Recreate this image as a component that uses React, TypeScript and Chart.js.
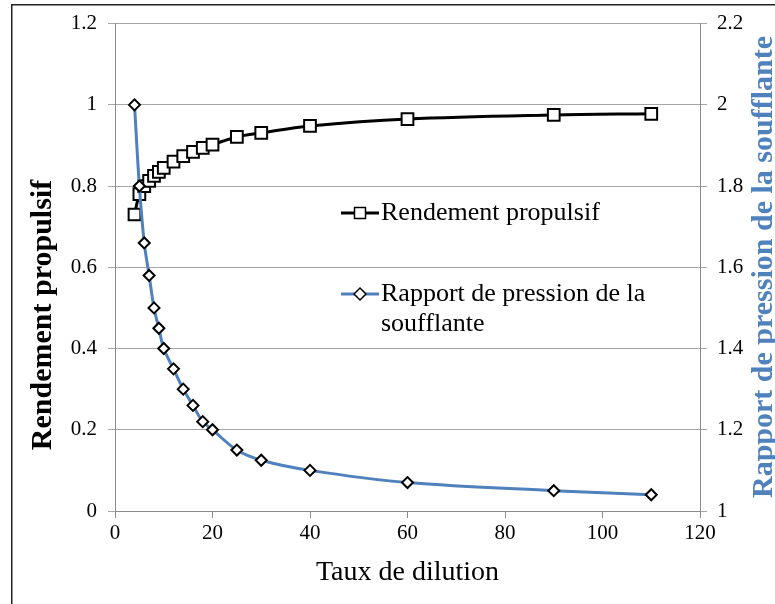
import React, { useEffect, useRef } from 'react';
import { Chart, registerables } from 'chart.js';

Chart.register(...registerables);

const dilution = [4, 5, 6, 7, 8, 9, 10, 12, 14, 16, 18, 20, 25, 30, 40, 60, 90, 110];
const rendement = [0.73, 0.78, 0.8, 0.813, 0.825, 0.835, 0.845, 0.86, 0.874, 0.884, 0.894, 0.902, 0.921, 0.931, 0.948, 0.965, 0.975, 0.978];
const rapport = [2.0, 1.8, 1.66, 1.58, 1.5, 1.45, 1.4, 1.35, 1.3, 1.26, 1.22, 1.2, 1.15, 1.125, 1.1, 1.07, 1.05, 1.04];

const xTickLabels = ['0', '20', '40', '60', '80', '100', '120'];
const leftTickLabels = ['0', '0.2', '0.4', '0.6', '0.8', '1', '1.2'];
const rightTickLabels = ['1', '1.2', '1.4', '1.6', '1.8', '2', '2.2'];

const xTitle = 'Taux de dilution';
const leftTitle = 'Rendement propulsif';
const rightTitle = 'Rapport de pression de la soufflante';
const legend1 = 'Rendement propulsif';
const legend2Lines = ['Rapport de pression de la', 'soufflante'];

const BLUE = '#4F81BD';
const SERIF = '"Liberation Serif", "Times New Roman", serif';

const decor = {
  id: 'decor',
  beforeDraw(chart: any) {
    const ctx = chart.ctx;
    ctx.save();
    ctx.fillStyle = '#222';
    ctx.fillRect(11, 4, chart.width - 11, 1.5);
    ctx.fillRect(11, 4, 1.5, chart.height - 4);
    ctx.restore();
  },
  afterDraw(chart: any) {
    const ctx = chart.ctx;
    ctx.save();
    // axis titles
    ctx.font = 'bold 30px ' + SERIF;
    ctx.textAlign = 'center';
    ctx.textBaseline = 'alphabetic';
    ctx.fillStyle = '#000';
    ctx.save();
    ctx.translate(50.5, 315);
    ctx.rotate(-Math.PI / 2);
    ctx.fillText(leftTitle, 0, 0);
    ctx.restore();
    ctx.fillStyle = BLUE;
    ctx.save();
    ctx.translate(772, 267);
    ctx.rotate(-Math.PI / 2);
    ctx.fillText(rightTitle, 0, 0);
    ctx.restore();

    // legend
    ctx.font = '26px ' + SERIF;
    ctx.textAlign = 'left';
    ctx.textBaseline = 'middle';
    // entry 1
    ctx.strokeStyle = '#000';
    ctx.lineWidth = 3;
    ctx.beginPath();
    ctx.moveTo(341, 213);
    ctx.lineTo(379, 213);
    ctx.stroke();
    ctx.fillStyle = '#fff';
    ctx.lineWidth = 1.5;
    ctx.fillRect(354.5, 207.5, 11, 11);
    ctx.strokeRect(354.5, 207.5, 11, 11);
    ctx.fillStyle = '#000';
    ctx.fillText(legend1, 381, 213);
    // entry 2
    ctx.strokeStyle = BLUE;
    ctx.lineWidth = 3;
    ctx.beginPath();
    ctx.moveTo(341, 294);
    ctx.lineTo(379, 294);
    ctx.stroke();
    ctx.fillStyle = '#fff';
    ctx.strokeStyle = '#000';
    ctx.lineWidth = 1.5;
    ctx.beginPath();
    ctx.moveTo(360, 288);
    ctx.lineTo(366, 294);
    ctx.lineTo(360, 300);
    ctx.lineTo(354, 294);
    ctx.closePath();
    ctx.fill();
    ctx.stroke();
    ctx.fillStyle = '#000';
    ctx.fillText(legend2Lines[0], 381, 294);
    ctx.fillText(legend2Lines[1], 381, 324);
    ctx.restore();
  },
};

export default function App() {
  const ref = useRef<HTMLCanvasElement | null>(null);

  useEffect(() => {
    if (!ref.current) return;
    Chart.defaults.font.family = SERIF;
    const chart = new Chart(ref.current, {
      type: 'line',
      data: {
        datasets: [
          {
            label: legend2Lines.join(' '),
            data: dilution.map((x, i) => ({ x, y: rapport[i] })),
            yAxisID: 'y1',
            borderColor: BLUE,
            borderWidth: 3,
            tension: 0.35,
            pointStyle: 'rectRot',
            pointRadius: 5.5,
            pointBorderWidth: 2,
            pointBorderColor: '#000',
            pointBackgroundColor: '#fff',
            fill: false,
          },
          {
            label: legend1,
            data: dilution.map((x, i) => ({ x, y: rendement[i] })),
            yAxisID: 'y',
            borderColor: '#000',
            borderWidth: 3,
            tension: 0.35,
            pointStyle: 'rect',
            pointRadius: 8.3,
            pointBorderWidth: 2,
            pointBorderColor: '#000',
            pointBackgroundColor: '#fff',
            fill: false,
          },
        ],
      },
      options: {
        responsive: false,
        animation: false,
        layout: { padding: { top: 22, left: 0, right: 0, bottom: 0 } },
        plugins: { legend: { display: false }, tooltip: { enabled: false } },
        scales: {
          x: {
            type: 'linear',
            min: 0,
            max: 120,
            afterBuildTicks: (s: any) => {
              s.ticks = xTickLabels.map((t) => ({ value: Number(t) }));
            },
            afterFit: (s: any) => {
              s.height = 93;
            },
            ticks: {
              color: '#000',
              font: { size: 21 },
              padding: 3,
              maxRotation: 0,
              callback: (v: any, i: number) => xTickLabels[i],
            },
            grid: { drawOnChartArea: false, tickLength: 7, color: '#8C8C8C' },
            border: { display: true, color: '#8C8C8C' },
            title: {
              display: true,
              text: xTitle,
              color: '#000',
              font: { size: 28 },
              padding: { top: 0, bottom: 15 },
            },
          },
          y: {
            type: 'linear',
            position: 'left',
            min: 0,
            max: 1.2,
            afterBuildTicks: (s: any) => {
              s.ticks = leftTickLabels.map((t) => ({ value: Number(t) }));
            },
            afterFit: (s: any) => {
              s.width = 115;
            },
            ticks: {
              color: '#000',
              font: { size: 21 },
              padding: 11,
              callback: (v: any, i: number) => leftTickLabels[i],
            },
            grid: { drawOnChartArea: true, tickLength: 7, color: '#A6A6A6' },
            border: { display: true, color: '#8C8C8C' },
          },
          y1: {
            type: 'linear',
            position: 'right',
            min: 1,
            max: 2.2,
            afterBuildTicks: (s: any) => {
              s.ticks = rightTickLabels.map((t) => ({ value: Number(t) }));
            },
            afterFit: (s: any) => {
              s.width = 75;
            },
            ticks: {
              color: '#000',
              font: { size: 21 },
              padding: 10,
              callback: (v: any, i: number) => rightTickLabels[i],
            },
            grid: { drawOnChartArea: false, tickLength: 7, color: '#A6A6A6' },
            border: { display: true, color: '#8C8C8C' },
          },
        },
      },
      plugins: [decor],
    });
    return () => chart.destroy();
  }, []);

  return (
    <div style={{ position: 'absolute', left: 0, top: 0, width: 775, height: 604, background: '#fff' }}>
      <canvas ref={ref} width={775} height={604} style={{ display: 'block' }} />
    </div>
  );
}
